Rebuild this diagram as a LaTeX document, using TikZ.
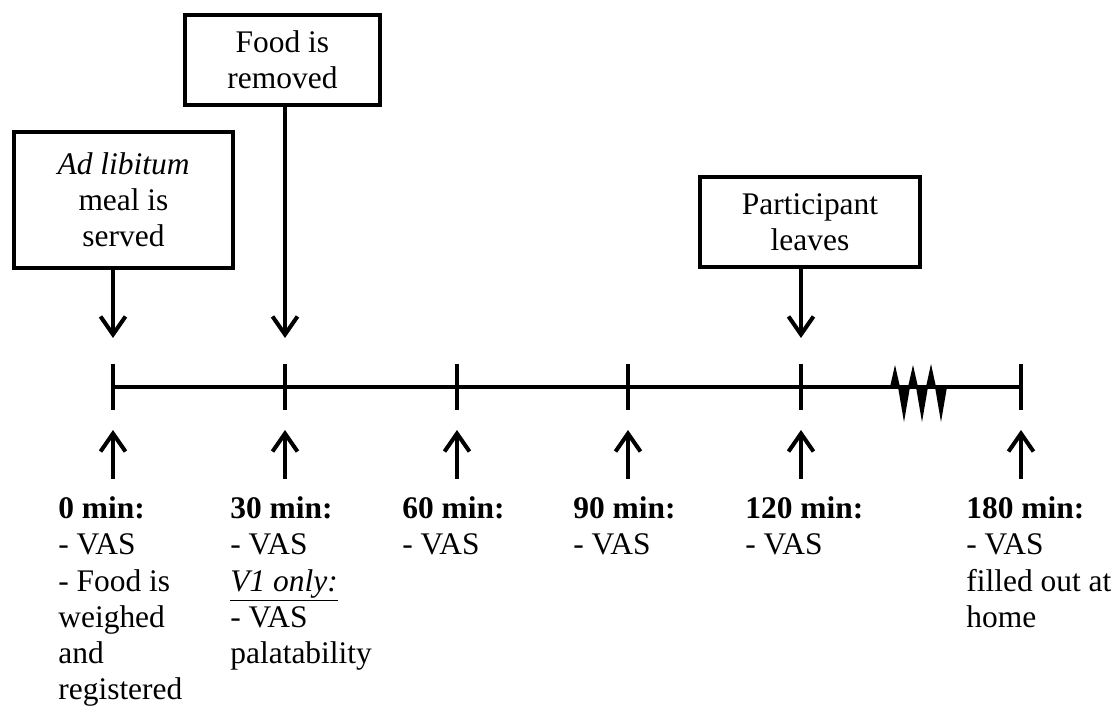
\documentclass[tikz,border=0pt]{standalone}
\usepackage{fontspec}
\setmainfont{Liberation Serif}
\usetikzlibrary{arrows.meta,positioning}

\begin{document}
\begin{tikzpicture}[
  >={Straight Barb[length=3.6mm,width=5mm]},
  every node/.style={font=\fontsize{17.9}{20.6}\selectfont},
  eventbox/.style={draw=black, line width=2.3pt, align=center, inner sep=0pt},
  axis/.style={draw=black, line width=2.3pt},
  pointer/.style={->, draw=black, line width=2.3pt},
  timelabel/.style={anchor=north west, align=left, inner sep=0pt}
]
  \useasboundingbox (0,0) rectangle (22.28,14.18);

  % time points on the axis
  \coordinate (t0) at (2.26,6.44);
  \coordinate (t30) at (5.70,6.44);
  \coordinate (t60) at (9.14,6.44);
  \coordinate (t90) at (12.56,6.44);
  \coordinate (t120) at (16.02,6.44);
  \coordinate (t180) at (20.42,6.44);

  \draw[axis] (t0) -- (t180);
  \draw[axis] ([yshift=4.6mm]t0) -- ([yshift=-4.6mm]t0);
  \draw[axis] ([yshift=4.6mm]t30) -- ([yshift=-4.6mm]t30);
  \draw[axis] ([yshift=4.6mm]t60) -- ([yshift=-4.6mm]t60);
  \draw[axis] ([yshift=4.6mm]t90) -- ([yshift=-4.6mm]t90);
  \draw[axis] ([yshift=4.6mm]t120) -- ([yshift=-4.6mm]t120);
  \draw[axis] ([yshift=4.6mm]t180) -- ([yshift=-4.6mm]t180);

  % break in the axis
  \fill (17.80,6.44) -- (17.90,6.88) -- (18.00,6.44) -- cycle;
  \fill (17.96,6.44) -- (18.08,5.74) -- (18.20,6.44) -- cycle;
  \fill (18.16,6.44) -- (18.26,6.88) -- (18.36,6.44) -- cycle;
  \fill (18.32,6.44) -- (18.44,5.74) -- (18.56,6.44) -- cycle;
  \fill (18.52,6.44) -- (18.62,6.90) -- (18.72,6.44) -- cycle;
  \fill (18.70,6.44) -- (18.82,5.74) -- (18.94,6.44) -- cycle;

  \node[eventbox, minimum width=4.38cm, minimum height=2.72cm] (meal) at (2.47,10.18) {\textit{Ad libitum}\\meal is\\served};
  \node[eventbox, minimum width=3.90cm, minimum height=1.80cm] (removed) at (5.65,12.98) {Food is\\removed};
  \node[eventbox, minimum width=4.40cm, minimum height=1.80cm] (leaves) at (16.20,9.74) {Participant\\leaves};

  \draw[pointer] (meal.south -| t0) -- ([yshift=9.8mm]t0);
  \draw[pointer] (removed.south -| t30) -- ([yshift=9.8mm]t30);
  \draw[pointer] (leaves.south -| t120) -- ([yshift=9.8mm]t120);

  \node[timelabel] (l0) at (1.16,4.25) {\textbf{0 min:}\\- VAS\\- Food is\\weighed\\and\\registered};
  \node[timelabel] (l30) at (4.60,4.25) {\textbf{30 min:}\\- VAS\\\underline{\textit{V1 only:}}\\- VAS\\palatability};
  \node[timelabel] (l60) at (8.04,4.25) {\textbf{60 min:}\\- VAS};
  \node[timelabel] (l90) at (11.46,4.25) {\textbf{90 min:}\\- VAS};
  \node[timelabel] (l120) at (14.90,4.25) {\textbf{120 min:}\\- VAS};
  \node[timelabel] (l180) at (19.32,4.25) {\textbf{180 min:}\\- VAS\\filled out at\\home};

  \draw[pointer] ([yshift=3.5mm]l0.north -| t0) -- ([yshift=-8.6mm]t0);
  \draw[pointer] ([yshift=3.5mm]l30.north -| t30) -- ([yshift=-8.6mm]t30);
  \draw[pointer] ([yshift=3.5mm]l60.north -| t60) -- ([yshift=-8.6mm]t60);
  \draw[pointer] ([yshift=3.5mm]l90.north -| t90) -- ([yshift=-8.6mm]t90);
  \draw[pointer] ([yshift=3.5mm]l120.north -| t120) -- ([yshift=-8.6mm]t120);
  \draw[pointer] ([yshift=3.5mm]l180.north -| t180) -- ([yshift=-8.6mm]t180);
\end{tikzpicture}
\end{document}
